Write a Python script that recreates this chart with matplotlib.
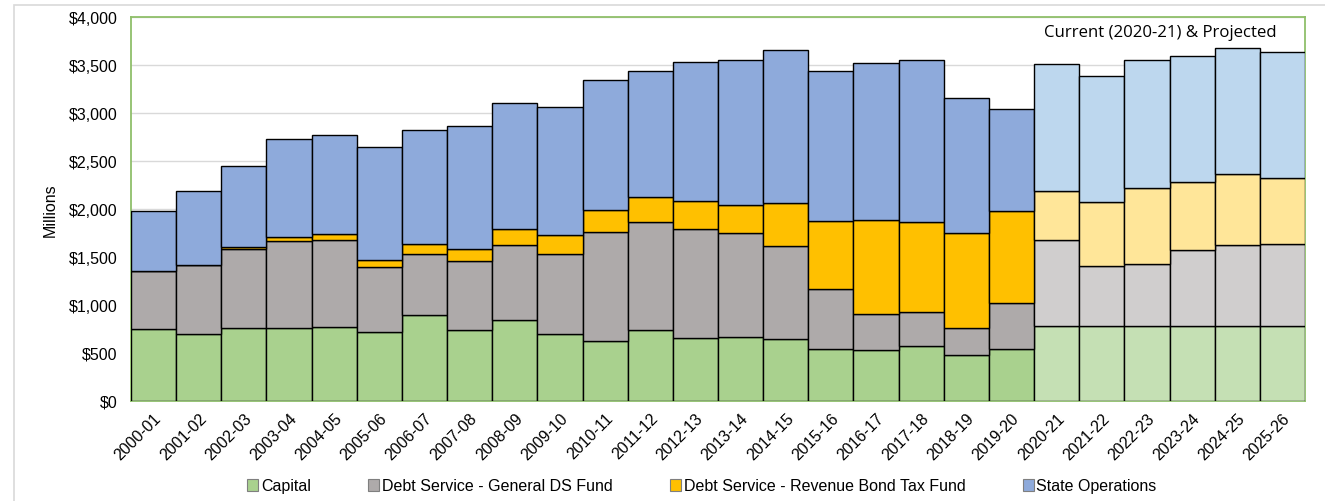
import matplotlib
matplotlib.use("Agg")
import matplotlib.pyplot as plt
from matplotlib.patches import Rectangle, Patch
import numpy as np

plt.rcParams['font.family'] = ['Liberation Sans', 'DejaVu Sans']

years = ["2000-01", "2001-02", "2002-03", "2003-04", "2004-05", "2005-06", "2006-07",
         "2007-08", "2008-09", "2009-10", "2010-11", "2011-12", "2012-13", "2013-14",
         "2014-15", "2015-16", "2016-17", "2017-18", "2018-19", "2019-20", "2020-21",
         "2021-22", "2022-23", "2023-24", "2024-25", "2025-26"]

capital = [748, 696, 759, 759, 765, 717, 898, 741, 842, 699, 619, 741, 654, 665,
           644, 536, 525, 567, 480, 543, 778, 783, 778, 780, 782, 782]
debt_general = [602, 716, 828, 904, 913, 679, 637, 721, 787, 836, 1142, 1124, 1139, 1089,
                967, 633, 383, 359, 275, 473, 900, 626, 649, 796, 839, 854]
debt_revenue = [0, 0, 12, 42, 62, 76, 104, 125, 164, 198, 230, 265, 292, 292,
                449, 710, 978, 943, 996, 968, 511, 661, 793, 707, 749, 689]
state_ops = [626, 773, 854, 1030, 1037, 1180, 1180, 1284, 1318, 1333, 1350, 1305, 1444, 1504,
             1604, 1556, 1632, 1687, 1405, 1061, 1326, 1320, 1330, 1316, 1312, 1315]

series_names = ["Capital", "Debt Service - General DS Fund",
                "Debt Service - Revenue Bond Tax Fund", "State Operations"]
actual_colors = ["#a9d18e", "#aeaaaa", "#ffc000", "#8eaadb"]
projected_colors = ["#c5e0b4", "#d0cece", "#ffe699", "#bdd7ee"]
first_projected = "2020-21"

W, H = 1325, 502
fig = plt.figure(figsize=(W / 100, H / 100), dpi=100)
fig.patch.set_facecolor("white")

# outer chart border (light grey)
fig.add_artist(Rectangle((14 / W, -0.05), 1.2, 1 - 5.5 / H + 0.05, transform=fig.transFigure,
                         fill=False, edgecolor="#d9d9d9", linewidth=1.2))

ax = fig.add_axes([131 / W, 1 - 401.7 / H, (1305 - 131) / W, (401.7 - 18.3) / H])

x = np.arange(len(years))
proj_idx = years.index(first_projected)
bottom = np.zeros(len(years))
for vals, ca, cp, name in zip([capital, debt_general, debt_revenue, state_ops],
                              actual_colors, projected_colors, series_names):
    vals = np.array(vals, dtype=float)
    cols = [ca if i < proj_idx else cp for i in range(len(years))]
    ax.bar(x, vals, width=1.0, bottom=bottom, color=cols, edgecolor="black",
           linewidth=1.0, zorder=3)
    bottom += vals

ax.set_xlim(-0.5, len(years) - 0.5)
ax.set_ylim(0, 4000)
ax.set_yticks(np.arange(0, 4001, 500))
ax.set_yticklabels([f"${v:,.0f}" for v in np.arange(0, 4001, 500)], fontsize=11.5)
ax.yaxis.grid(True, color="#d9d9d9", linewidth=1.0, zorder=0)
ax.set_axisbelow(True)
ax.tick_params(axis="both", length=0)
ax.tick_params(axis="y", pad=9.5)
ax.set_xticks(x)
ax.set_xticklabels(years, rotation=45, ha="right", rotation_mode="anchor", fontsize=11.5)
ax.tick_params(axis="x", pad=7)
for sp in ax.spines.values():
    sp.set_color("#8fbf6a")
    sp.set_linewidth(1.3)

ax.set_ylabel("Millions", fontsize=11.5, labelpad=8)

ax.text(0.976, 0.962, "Current (2020-21) & Projected", transform=ax.transAxes,
        ha="right", va="center", fontsize=12.1, family=["Open Sans", "DejaVu Sans"])

handles = [Patch(facecolor=c, edgecolor="#7f7f7f", linewidth=0.8) for c in actual_colors]
fig.legend(handles, series_names, loc="center", bbox_to_anchor=(702 / W, 1 - 487 / H),
           ncol=4, frameon=False, fontsize=11.5, handlelength=0.7, handleheight=0.7,
           handletextpad=0.15, columnspacing=3.6, borderaxespad=0)

fig.savefig("out.png", dpi=100, facecolor="white")
